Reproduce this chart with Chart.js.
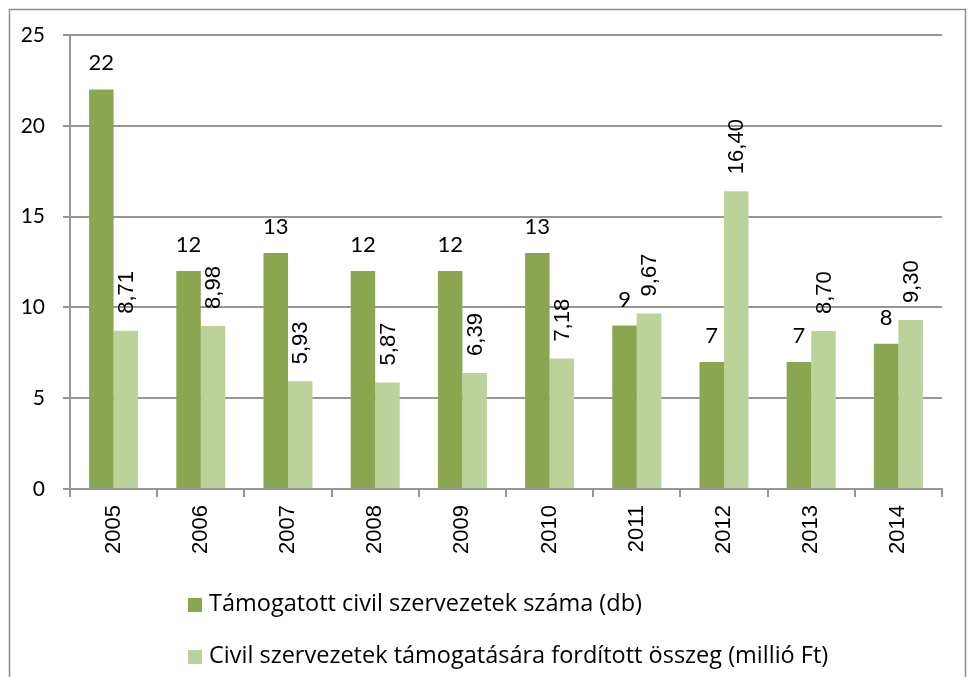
<!DOCTYPE html>
<html>
<head>
<meta charset="utf-8">
<script src="https://cdn.jsdelivr.net/npm/chart.js@4/dist/chart.umd.min.js"></script>
<style>
html,body{margin:0;padding:0;background:#fff;}
#wrap{width:969px;height:677px;position:relative;}
</style>
</head>
<body>
<div id="wrap"><canvas id="c" width="969" height="677"></canvas></div>
<script>
const years = ['2005','2006','2007','2008','2009','2010','2011','2012','2013','2014'];
const supportedCount = [22, 12, 13, 12, 12, 13, 9, 7, 7, 8];
const supportAmount = [8.71, 8.98, 5.93, 5.87, 6.39, 7.18, 9.67, 16.40, 8.70, 9.30];
const seriesNames = ['Támogatott civil szervezetek száma (db)', 'Civil szervezetek támogatására fordított összeg (millió Ft)'];
const yTicks = [0, 5, 10, 15, 20, 25];

const DARK = '#8aa64f';
const LIGHT = '#bbd29a';
const GRID = '#969696';
const CAL = 'Lato, "Open Sans", sans-serif';
const OPEN = '"Open Sans", Lato, sans-serif';
const ARI = '"Liberation Sans", Arial, sans-serif';

const framePlugin = {
  id: 'frame',
  beforeDraw(chart) {
    const ctx = chart.ctx;
    ctx.save();
    ctx.strokeStyle = '#8c8c8c';
    ctx.lineWidth = 1.5;
    ctx.beginPath();
    ctx.moveTo(9.5, 677);
    ctx.lineTo(9.5, 9.5);
    ctx.lineTo(965.5, 9.5);
    ctx.lineTo(965.5, 677);
    ctx.stroke();
    ctx.restore();
  }
};

const labelPlugin = {
  id: 'vlabels',
  afterDatasetsDraw(chart) {
    const ctx = chart.ctx;
    ctx.save();
    ctx.fillStyle = '#000';
    chart.getDatasetMeta(0).data.forEach((bar, i) => {
      ctx.font = '22px ' + CAL;
      ctx.textAlign = 'center';
      ctx.textBaseline = 'alphabetic';
      ctx.fillText(String(supportedCount[i]), bar.x, bar.y - 19);
    });
    chart.getDatasetMeta(1).data.forEach((bar, i) => {
      ctx.save();
      ctx.translate(bar.x + 1, bar.y - 17);
      ctx.rotate(-Math.PI / 2);
      ctx.font = '22px ' + ARI;
      ctx.textAlign = 'left';
      ctx.textBaseline = 'middle';
      ctx.fillText(supportAmount[i].toFixed(2).replace('.', ','), 0, 0);
      ctx.restore();
    });
    ctx.restore();
  }
};

const legendPlugin = {
  id: 'customLegend',
  afterDraw(chart) {
    const ctx = chart.ctx;
    const colors = [DARK, LIGHT];
    const rows = [598, 650];
    ctx.save();
    seriesNames.forEach((name, i) => {
      ctx.fillStyle = colors[i];
      ctx.fillRect(188, rows[i], 14, 14);
      ctx.fillStyle = '#000';
      ctx.font = '23.5px ' + OPEN;
      ctx.textAlign = 'left';
      ctx.textBaseline = 'middle';
      ctx.fillText(name, 209, rows[i] + 6);
    });
    ctx.restore();
  }
};

new Chart(document.getElementById('c'), {
  type: 'bar',
  data: {
    labels: years,
    datasets: [
      { label: seriesNames[0], data: supportedCount, backgroundColor: DARK, categoryPercentage: 0.562, barPercentage: 1.0 },
      { label: seriesNames[1], data: supportAmount, backgroundColor: LIGHT, categoryPercentage: 0.562, barPercentage: 1.0 }
    ]
  },
  options: {
    responsive: false,
    animation: false,
    devicePixelRatio: 1,
    layout: { padding: { left: 0, right: 27, top: 35, bottom: 0 } },
    plugins: { legend: { display: false }, tooltip: { enabled: false } },
    scales: {
      x: {
        grid: { display: true, drawOnChartArea: false, drawTicks: true, tickLength: 8, color: GRID, lineWidth: 2, offset: true },
        border: { display: true, color: GRID, width: 2 },
        ticks: { minRotation: 90, maxRotation: 90, autoSkip: false, color: '#000', font: { family: ARI, size: 22 }, padding: 8 },
        afterFit(s) { s.height = 188; }
      },
      y: {
        min: 0, max: 25,
        afterBuildTicks(s) { s.ticks = yTicks.map(v => ({ value: v })); },
        grid: { color: GRID, lineWidth: 2, drawTicks: true, tickLength: 7 },
        border: { display: true, color: GRID, width: 2 },
        ticks: { color: '#000', font: { family: CAL, size: 21 }, padding: 18 },
        afterFit(s) { s.width = 70; }
      }
    }
  },
  plugins: [framePlugin, labelPlugin, legendPlugin]
});
</script>
</body>
</html>
